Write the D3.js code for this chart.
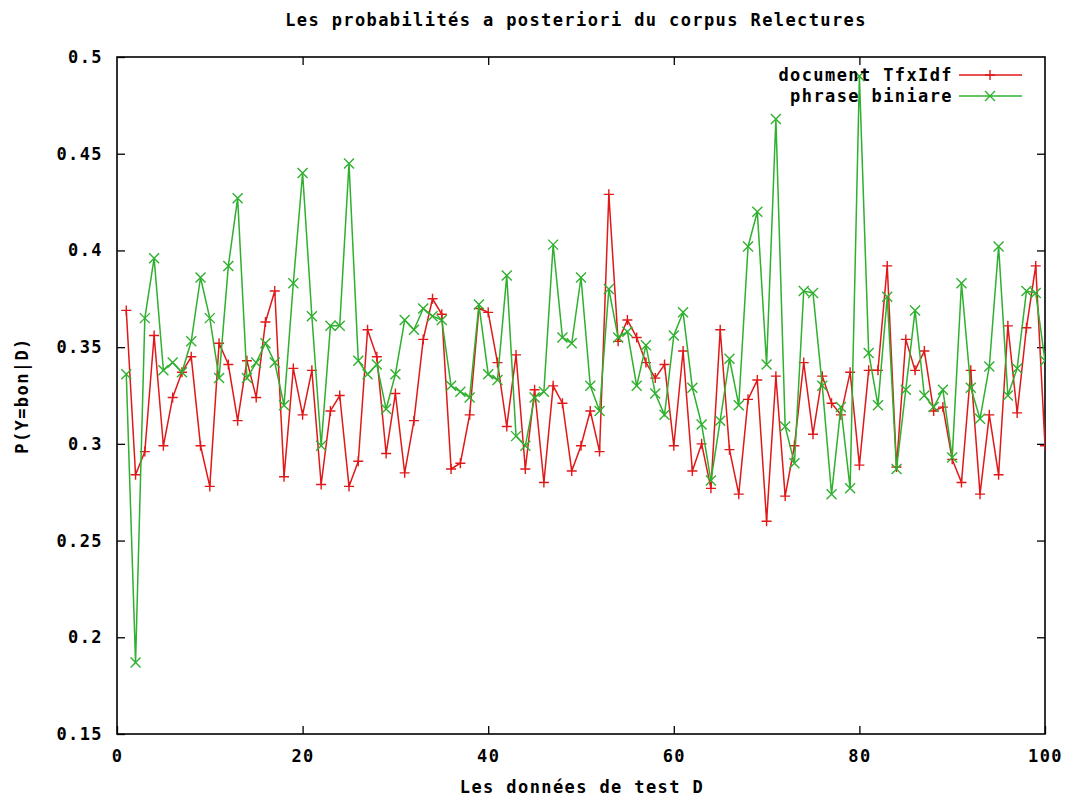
<!DOCTYPE html>
<html lang="fr">
<head>
<meta charset="UTF-8" />
<title>Les probabilités a posteriori du corpus Relectures</title>
<script src="https://d3js.org/d3.v7.min.js"></script>
<style>
  body { margin: 0; background: #fff; }
  svg text {
    font-family: "DejaVu Sans Mono", monospace;
    font-weight: bold;
    font-size: 17px;
    letter-spacing: 1.4px;
    fill: #000;
  }
</style>
</head>
<body>
<svg id="chart" width="1070" height="798"></svg>
<script>
// values, x = 1..100
const redValues = [
  0.369, 0.284, 0.296, 0.356, 0.299, 0.324, 0.337, 0.345, 0.299, 0.278,
  0.352, 0.341, 0.312, 0.343, 0.324, 0.363, 0.379, 0.283, 0.339, 0.315,
  0.338, 0.279, 0.317, 0.325, 0.278, 0.291, 0.359, 0.345, 0.295, 0.326,
  0.285, 0.312, 0.354, 0.375, 0.367, 0.287, 0.290, 0.315, 0.370, 0.368,
  0.342, 0.309, 0.346, 0.287, 0.328, 0.280, 0.330, 0.321, 0.286, 0.299,
  0.317, 0.296, 0.429, 0.353, 0.364, 0.355, 0.342, 0.334, 0.341, 0.299,
  0.348, 0.286, 0.300, 0.277, 0.359, 0.297, 0.274, 0.323, 0.333, 0.260,
  0.335, 0.273, 0.299, 0.342, 0.305, 0.335, 0.321, 0.315, 0.337, 0.289,
  0.338, 0.338, 0.392, 0.288, 0.354, 0.338, 0.348, 0.317, 0.319, 0.292,
  0.280, 0.338, 0.274, 0.315, 0.284, 0.361, 0.316, 0.360, 0.392, 0.299
];
const greenValues = [
  0.336, 0.187, 0.365, 0.396, 0.338, 0.342, 0.337, 0.353, 0.386, 0.365,
  0.334, 0.392, 0.427, 0.334, 0.342, 0.352, 0.342, 0.320, 0.383, 0.440,
  0.366, 0.299, 0.361, 0.361, 0.445, 0.343, 0.336, 0.341, 0.318, 0.336,
  0.364, 0.359, 0.370, 0.366, 0.364, 0.330, 0.327, 0.324, 0.372, 0.336,
  0.333, 0.387, 0.304, 0.299, 0.324, 0.327, 0.403, 0.355, 0.352, 0.386,
  0.330, 0.317, 0.380, 0.355, 0.358, 0.330, 0.351, 0.326, 0.315, 0.356,
  0.368, 0.329, 0.310, 0.281, 0.312, 0.344, 0.320, 0.402, 0.420, 0.341,
  0.468, 0.309, 0.290, 0.379, 0.378, 0.330, 0.274, 0.319, 0.277, 0.490,
  0.347, 0.320, 0.376, 0.287, 0.328, 0.369, 0.325, 0.319, 0.328, 0.293,
  0.383, 0.329, 0.313, 0.340, 0.402, 0.325, 0.339, 0.379, 0.378, 0.343
];
const seriesNames = ["document TfxIdf", "phrase biniare"];
const xTicks = [0, 20, 40, 60, 80, 100];
const yTicks = [0.15, 0.2, 0.25, 0.3, 0.35, 0.4, 0.45, 0.5];

const margin = { top: 57, right: 25, bottom: 64, left: 117 };
const width = 1070, height = 798;

const svg = d3.select("#chart");

const x = d3.scaleLinear().domain([0, 100]).range([margin.left, width - margin.right]);
const y = d3.scaleLinear().domain([0.15, 0.5]).range([height - margin.bottom, margin.top]);

const red = "#e01818";
const green = "#2fb02f";

svg.append("clipPath").attr("id", "plot-clip")
  .append("rect")
  .attr("x", x(0)).attr("y", y(0.5))
  .attr("width", x(100) - x(0)).attr("height", y(0.15) - y(0.5));

// axes, ticks pointing inward, mirrored on top and right
const fmt = d => String(d);
svg.append("g")
  .attr("transform", `translate(0,${y(0.15)})`)
  .call(d3.axisBottom(x).tickValues(xTicks).tickSizeInner(-8).tickSizeOuter(0).tickPadding(16).tickFormat(fmt))
  .call(g => g.select(".domain").remove());
svg.append("g")
  .attr("transform", `translate(0,${y(0.5)})`)
  .call(d3.axisTop(x).tickValues(xTicks.slice(1, -1)).tickSizeInner(-8).tickSizeOuter(0).tickFormat(""))
  .call(g => g.select(".domain").remove());
svg.append("g")
  .attr("transform", `translate(${x(0)},0)`)
  .call(d3.axisLeft(y).tickValues(yTicks).tickSizeInner(-8).tickSizeOuter(0).tickPadding(14).tickFormat(fmt))
  .call(g => g.select(".domain").remove());
svg.append("g")
  .attr("transform", `translate(${x(100)},0)`)
  .call(d3.axisRight(y).tickValues(yTicks.slice(1, -1)).tickSizeInner(-8).tickSizeOuter(0).tickFormat(""))
  .call(g => g.select(".domain").remove());

svg.selectAll(".tick line").attr("stroke", "#000").attr("stroke-width", 1.3);
svg.selectAll(".tick text")
  .style("font-family", "'DejaVu Sans Mono', monospace")
  .style("font-size", "17px")
  .style("font-weight", "bold");

// frame
svg.append("rect")
  .attr("x", x(0)).attr("y", y(0.5))
  .attr("width", x(100) - x(0)).attr("height", y(0.15) - y(0.5))
  .attr("fill", "none").attr("stroke", "#000").attr("stroke-width", 1.6);

const plusPath = "M-5,0H5M0,-5V5";
const crossPath = "M-5,-5L5,5M-5,5L5,-5";

function drawSeries(values, color, marker) {
  const pts = values.map((v, i) => [i + 1, v]);
  const line = d3.line().x(d => x(d[0])).y(d => y(d[1]));
  const g = svg.append("g").attr("clip-path", "url(#plot-clip)");
  g.append("path")
    .attr("d", line(pts))
    .attr("fill", "none")
    .attr("stroke", color)
    .attr("stroke-width", 1.5);
  g.selectAll("path.mark")
    .data(pts)
    .join("path")
    .attr("class", "mark")
    .attr("d", marker)
    .attr("transform", d => `translate(${x(d[0])},${y(d[1])})`)
    .attr("stroke", color)
    .attr("stroke-width", 1.4)
    .attr("fill", "none");
}

drawSeries(redValues, red, plusPath);
drawSeries(greenValues, green, crossPath);

// legend
const legend = [
  { name: seriesNames[0], color: red, marker: plusPath },
  { name: seriesNames[1], color: green, marker: crossPath }
];
legend.forEach((d, i) => {
  const ly = 75 + i * 21;
  svg.append("text")
    .attr("x", 953).attr("y", ly)
    .attr("dy", "0.35em")
    .attr("text-anchor", "end")
    .text(d.name);
  svg.append("line")
    .attr("x1", 959).attr("x2", 1022)
    .attr("y1", ly).attr("y2", ly)
    .attr("stroke", d.color).attr("stroke-width", 1.5);
  svg.append("path")
    .attr("d", d.marker)
    .attr("transform", `translate(990,${ly})`)
    .attr("stroke", d.color).attr("stroke-width", 1.4).attr("fill", "none");
});

// titles
svg.append("text")
  .attr("x", 576).attr("y", 20)
  .attr("dy", "0.35em")
  .attr("text-anchor", "middle")
  .text("Les probabilités a posteriori du corpus Relectures");

svg.append("text")
  .attr("x", 582).attr("y", 787)
  .attr("dy", "0.35em")
  .attr("text-anchor", "middle")
  .text("Les données de test D");

svg.append("text")
  .attr("transform", `translate(22,${(y(0.15) + y(0.5)) / 2}) rotate(-90)`)
  .attr("dy", "0.35em")
  .attr("text-anchor", "middle")
  .text("P(Y=bon|D)");
</script>
</body>
</html>
